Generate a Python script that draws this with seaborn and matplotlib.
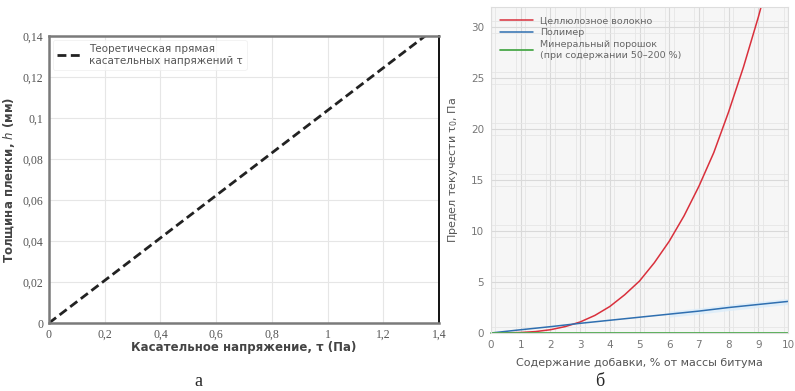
import numpy as np
import pandas as pd
import matplotlib
matplotlib.use("Agg")
import matplotlib.pyplot as plt
from matplotlib.ticker import FixedLocator, FuncFormatter
import seaborn as sns

# ---- data, panel a ----
tau = [0.0, 1.35]
thickness = [0.0, 0.14]
legend_a = "Теоретическая прямая\nкасательных напряжений τ"
xticks_a = [0, 0.2, 0.4, 0.6, 0.8, 1.0, 1.2, 1.4]
yticks_a = [0, 0.02, 0.04, 0.06, 0.08, 0.10, 0.12, 0.14]

# ---- data, panel б ----
additive = [0, 0.5, 1, 1.5, 2, 2.5, 3, 3.5, 4, 4.5, 5, 5.5, 6, 6.5, 7, 7.5, 8, 8.5, 9, 9.5]
cellulose = [0, 0.01, 0.05, 0.14, 0.32, 0.63, 1.08, 1.73, 2.6, 3.75, 5.1, 6.9, 9.0, 11.5,
             14.4, 17.7, 21.7, 26.1, 31.0, 36.4]
polymer_x = [0, 1, 2, 3, 4, 5, 6, 7, 8, 9, 10]
polymer = [0, 0.32, 0.62, 0.95, 1.25, 1.55, 1.85, 2.15, 2.5, 2.8, 3.1]
mineral_x = [0, 10]
mineral = [0.03, 0.03]
labels_b = ["Целлюлозное волокно", "Полимер", "Минеральный порошок\n(при содержании 50–200 %)"]
xticks_b = list(range(0, 11))
yticks_b = [0, 5, 10, 15, 20, 25, 30]

sns.set_theme(style="white")
plt.rcParams['font.family'] = ['DejaVu Sans']

fig = plt.figure(figsize=(7.95, 3.91), dpi=100)
ax1 = fig.add_axes([49/795, 1-323/391, (439-49)/795, (323-36)/391])
ax2 = fig.add_axes([491/795, 1-333/391, (788-491)/795, (333-7)/391])

# ---- panel a ----
dfa = pd.DataFrame({"tau": tau, "h": thickness})
sns.lineplot(data=dfa, x="tau", y="h", ax=ax1, color="#222222", linestyle=(0, (3.2, 1.6)),
             linewidth=2.0, label=legend_a)
ax1.set_xlim(0, 1.4)
ax1.set_ylim(0, 0.14)
ax1.set_xticks(xticks_a)
ax1.set_yticks(yticks_a)
fmt = lambda v, p: ("%g" % round(v, 3)).replace(".", ",")
ax1.xaxis.set_major_formatter(FuncFormatter(fmt))
ax1.yaxis.set_major_formatter(FuncFormatter(fmt))
ax1.grid(True, color="#e6e6e6", linewidth=0.8)
for s in ["left", "bottom", "top"]:
    ax1.spines[s].set_color("#7a7a7a")
    ax1.spines[s].set_linewidth(1.8)
ax1.spines["right"].set_color("#111111")
ax1.spines["right"].set_linewidth(1.4)
ax1.tick_params(axis="both", which="major", length=3, width=0.8, color="#777777",
                labelsize=8.5, labelcolor="#555555", direction="out", pad=1)
for lab in ax1.get_xticklabels() + ax1.get_yticklabels():
    lab.set_fontfamily("Liberation Serif")
ax1.set_xlabel("Касательное напряжение, τ (Па)", fontsize=8.5, fontweight="bold",
               color="#444444", labelpad=0)
ax1.set_ylabel("Толщина пленки, $\\it{h}$ (мм)", fontsize=8.5, fontweight="bold",
               color="#444444", labelpad=4)
leg = ax1.legend(loc="upper left", fontsize=7.5, frameon=True, handlelength=2.2,
                 borderaxespad=0.4, labelcolor="#555555")
leg.get_frame().set_edgecolor("#eeeeee")
leg.get_frame().set_linewidth(0.6)

# ---- panel б ----
ax2.set_facecolor("#f6f6f6")
ax2.fill_between(polymer_x[6:], np.array(polymer[6:]) - 0.3, np.array(polymer[6:]) + 0.3,
                 color="#d8ecfb", alpha=0.7, linewidth=0)
dfr = pd.DataFrame({"x": additive, "y": cellulose})
dfp = pd.DataFrame({"x": polymer_x, "y": polymer})
dfm = pd.DataFrame({"x": mineral_x, "y": mineral})
sns.lineplot(data=dfr, x="x", y="y", ax=ax2, color="#d9303c", linewidth=1.1, label=labels_b[0])
sns.lineplot(data=dfp, x="x", y="y", ax=ax2, color="#2f6fb0", linewidth=1.1, label=labels_b[1])
sns.lineplot(data=dfm, x="x", y="y", ax=ax2, color="#4aa84a", linewidth=1.3, label=labels_b[2],
             clip_on=False)
ax2.set_xlim(0, 10)
ax2.set_ylim(0, 32)
ax2.set_xticks(xticks_b)
ax2.set_yticks(yticks_b)
minor_x = [k + d for k in range(0, 11) for d in (-0.15, 0.15) if 0 < k + d < 10]
minor_y = [m + d for m in range(0, 35, 5) for d in (-0.6, 0.6) if 0 < m + d < 32]
ax2.xaxis.set_minor_locator(FixedLocator(minor_x))
ax2.yaxis.set_minor_locator(FixedLocator(minor_y))
ax2.grid(True, which="major", color="#d9d9d9", linewidth=0.8)
ax2.grid(True, which="minor", color="#e6e6e6", linewidth=0.6)
ax2.set_axisbelow(True)
for s in ax2.spines.values():
    s.set_color("#dddddd")
    s.set_linewidth(0.8)
ax2.tick_params(axis="both", which="both", length=0, labelsize=7.5, labelcolor="#777777", pad=5)
ax2.set_xlabel("Содержание добавки, % от массы битума", fontsize=8, color="#555555", labelpad=6)
ax2.set_ylabel("Предел текучести τ$_0$, Па", fontsize=8, color="#555555", labelpad=8)
leg2 = ax2.legend(loc="upper left", fontsize=6.8, frameon=False, handlelength=3.4,
                  labelcolor="#666666", borderaxespad=0.6, labelspacing=0.3)

# captions
fig.text(198/795, 1-382/391, "а", fontsize=13, family="Liberation Serif", ha="center", va="center")
fig.text(600/795, 1-382/391, "б", fontsize=13, family="Liberation Serif", ha="center", va="center")

fig.savefig("out.png", dpi=100)
